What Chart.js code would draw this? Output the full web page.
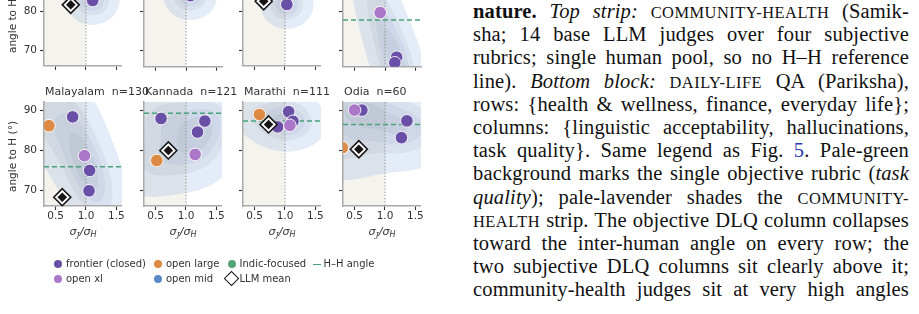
<!DOCTYPE html>
<html><head><meta charset="utf-8">
<script src="https://cdn.jsdelivr.net/npm/chart.js@4.4.1/dist/chart.umd.min.js"></script>
<style>
html,body{margin:0;padding:0;background:#fff;}
body{width:919px;height:314px;position:relative;overflow:hidden;font-family:"DejaVu Sans",sans-serif;color:#333;}
canvas.cv{position:absolute;}
.ttl{position:absolute;font-size:11px;line-height:11px;color:#333;white-space:pre;}
.xl{position:absolute;width:78px;text-align:center;font-size:11px;line-height:13px;color:#333;font-style:italic;white-space:nowrap;}
.xl sub{font-size:8px;vertical-align:-2px;}
.yl{position:absolute;font-size:10.5px;line-height:12px;color:#333;white-space:nowrap;transform-origin:0 0;transform:rotate(-90deg);}
.lgt{position:absolute;font-size:10px;line-height:12px;color:#333;white-space:nowrap;}
.dot{position:absolute;width:8px;height:8px;border-radius:50%;}
#txt{position:absolute;left:473px;top:0px;width:436px;font-family:"Liberation Serif",serif;font-size:20.5px;color:#111;letter-spacing:0.15px;}
#txt .ln{height:23.2px;line-height:23.2px;text-align:justify;text-align-last:justify;}
.sc{text-transform:uppercase;font-size:0.8em;letter-spacing:0.5px;}
.lnk{color:#2b35b8;}
</style>
</head><body>
<div id="txt"></div>
<script>
// ---------------- data ----------------
const X_TICKS = [0.5, 1.0, 1.5];
const Y_TICKS = [70, 80, 90];

// top strip (titles cut off in the crop)
const topFrontier  = [[[1.11,82.7]], [[1.07,84.0]], [[1.03,81.7]], [[1.19,68.4],[1.16,67.0]]];
const topOpenXL    = [[], [], [], [[0.92,79.7]]];
const topOpenLarge = [[], [], [], []];
const topIndic     = [[], [], [], []];
const topOpenMid   = [[], [], [], []];
const topMean      = [[0.75,81.6], null, [0.65,82.5], null];
const topHH        = [null, null, null, 77.8];

// bottom block
const bottomNames     = ['Malayalam', 'Kannada', 'Marathi', 'Odia'];
const bottomN         = [130, 121, 111, 60];
const bottomFrontier  = [[[0.78,88.3],[1.06,74.9],[1.05,69.8]], [[0.59,87.9],[1.31,87.25],[1.19,84.5]], [[1.06,89.6],[1.13,87.2],[0.88,85.8]], [[0.62,90.0],[1.36,87.3],[1.27,83.1]]];
const bottomOpenXL    = [[[0.975,78.6]], [[1.15,78.9]], [[1.08,86.2]], [[0.50,90.0]]];
const bottomOpenLarge = [[[0.39,86.1]], [[0.52,77.4]], [[0.58,88.9]], [[0.30,80.6]]];
const bottomIndic     = [[], [], [], []];
const bottomOpenMid   = [[], [], [], []];
const bottomMean      = [[0.61,68.2], [0.71,79.9], [0.73,86.4], [0.57,80.2]];
const bottomHH        = [75.8, 89.2, 87.3, 86.4];

const legendLabels = ['frontier (closed)', 'open large', 'Indic-focused', 'H\u2013H angle', 'open xl', 'open mid', 'LLM mean'];

// ---------------- styling / layout ----------------
const COLORS = {frontier:'#6a4fa6', openLarge:'#dc8a44', indic:'#4ea67a', openMid:'#5b88c6', openXL:'#ab77c8', hh:'#47a27c'};
const X_RANGE = [0.31, 1.59], Y_RANGE = [66, 92];
const COL_LEFT = [44, 144, 243, 343];
const PLOT_W = 78, PLOT_H = 104;
const ROW_TOP = [-36, 102];
const BEIGE = '#f4f3ee';
const KDE_REG = [0.03, 6];
const KDE_LEVELS = [0.04, 0.3, 0.55, 0.8];
const KDE_LAYERS = [[95,140,210,0.17],[120,135,165,0.10],[120,135,165,0.10],[110,120,140,0.10]];

function kdeModel(pts){
  const n = pts.length; let mx=0,my=0;
  pts.forEach(p=>{mx+=p[0];my+=p[1];}); mx/=n; my/=n;
  let sxx=0,syy=0,sxy=0;
  if(n>1){pts.forEach(p=>{const dx=p[0]-mx,dy=p[1]-my;sxx+=dx*dx;syy+=dy*dy;sxy+=dx*dy;});sxx/=(n-1);syy/=(n-1);sxy/=(n-1);}
  const f2 = Math.pow(n,-1/3);
  const a=sxx*f2+KDE_REG[0], d=syy*f2+KDE_REG[1], b=sxy*f2;
  const det=a*d-b*b;
  return {pts, ia:d/det, id:a/det, ib:-b/det, sx:Math.sqrt(a), sy:Math.sqrt(d)};
}
function dens(m,x,y){let s=0;for(const p of m.pts){const dx=x-p[0],dy=y-p[1];s+=Math.exp(-0.5*(m.ia*dx*dx+2*m.ib*dx*dy+m.id*dy*dy));}return s;}
function levels(m){
  const xs=m.pts.map(p=>p[0]), ys=m.pts.map(p=>p[1]);
  const x0=Math.min(...xs)-4.5*m.sx, x1=Math.max(...xs)+4.5*m.sx, y0=Math.min(...ys)-4.5*m.sy, y1=Math.max(...ys)+4.5*m.sy;
  const N=160, vals=[];
  for(let i=0;i<N;i++)for(let j=0;j<N;j++)vals.push(dens(m,x0+(x1-x0)*(i+0.5)/N,y0+(y1-y0)*(j+0.5)/N));
  vals.sort((a,b)=>a-b);
  const tot=vals.reduce((s,v)=>s+v,0);
  return KDE_LEVELS.map(q=>{let c=0;for(let k=0;k<vals.length;k++){c+=vals[k];if(c>=q*tot)return vals[k];}return vals[vals.length-1];});
}
const STACKS=(()=>{const out=[[0,0,0,0]];let pr=0,pg=0,pb=0,pa=0;
  KDE_LAYERS.forEach(([r,g,b,a])=>{pr=r*a+pr*(1-a);pg=g*a+pg*(1-a);pb=b*a+pb*(1-a);pa=a+pa*(1-a);out.push([pr,pg,pb,pa]);});return out;})();

function drawKDE(chart, pts){
  if(!pts.length)return;
  const m=kdeModel(pts), thr=levels(m);
  const ca=chart.chartArea, ctx=chart.ctx;
  const x0=Math.floor(ca.left), y0=Math.floor(ca.top), w=Math.ceil(ca.right)-x0, h=Math.ceil(ca.bottom)-y0;
  const img=new ImageData(w,h), xs=chart.scales.x, ys=chart.scales.y;
  const subs=[0.25,0.75];
  for(let j=0;j<h;j++)for(let i=0;i<w;i++){
    let r=0,g=0,b=0,a=0;
    for(const sx of subs)for(const sy of subs){
      const d=dens(m,xs.getValueForPixel(x0+i+sx),ys.getValueForPixel(y0+j+sy));
      let k=0;while(k<thr.length&&d>=thr[k])k++;
      const s=STACKS[k];r+=s[0];g+=s[1];b+=s[2];a+=s[3];
    }
    r/=4;g/=4;b/=4;a/=4;
    const o=(j*w+i)*4;
    if(a>0){img.data[o]=r/a;img.data[o+1]=g/a;img.data[o+2]=b/a;img.data[o+3]=a*255;}
  }
  const off=document.createElement('canvas');off.width=w;off.height=h;off.getContext('2d').putImageData(img,0,0);
  ctx.save();ctx.beginPath();ctx.rect(ca.left,ca.top,ca.right-ca.left,ca.bottom-ca.top);ctx.clip();
  ctx.drawImage(off,x0,y0);ctx.restore();
}

function panelPlugin(info){
  return {
    id:'panelBg',
    beforeDraw(chart){
      const ca=chart.chartArea, ctx=chart.ctx, x1=chart.scales.x.getPixelForValue(1.0);
      ctx.save();ctx.fillStyle=BEIGE;ctx.fillRect(ca.left,ca.top,x1-ca.left,ca.bottom-ca.top);ctx.restore();
      drawKDE(chart, info.kdePts);
    },
    beforeDatasetsDraw(chart){
      const ca=chart.chartArea, ctx=chart.ctx, x1=chart.scales.x.getPixelForValue(1.0);
      ctx.save();ctx.beginPath();ctx.rect(ca.left,ca.top,ca.right-ca.left,ca.bottom-ca.top);ctx.clip();
      ctx.strokeStyle='#8a8a8a';ctx.lineWidth=1;ctx.setLineDash([1.2,2]);
      ctx.beginPath();ctx.moveTo(x1,ca.top);ctx.lineTo(x1,ca.bottom);ctx.stroke();
      if(info.hh!=null){
        const y=chart.scales.y.getPixelForValue(info.hh);
        ctx.strokeStyle=COLORS.hh;ctx.lineWidth=1.5;ctx.setLineDash([5,3]);
        ctx.beginPath();ctx.moveTo(ca.left,y);ctx.lineTo(ca.right,y);ctx.stroke();
      }
      ctx.restore();
    }
  };
}

function toXY(arr){return (arr||[]).map(p=>({x:p[0],y:p[1]}));}

function makePanel(row,col){
  const isTop=row===0;
  const cats={
    frontier:(isTop?topFrontier:bottomFrontier)[col],
    openLarge:(isTop?topOpenLarge:bottomOpenLarge)[col],
    indic:(isTop?topIndic:bottomIndic)[col],
    openMid:(isTop?topOpenMid:bottomOpenMid)[col],
    openXL:(isTop?topOpenXL:bottomOpenXL)[col]
  };
  const mean=(isTop?topMean:bottomMean)[col];
  const hh=(isTop?topHH:bottomHH)[col];
  const kdePts=[].concat(cats.frontier,cats.openLarge,cats.indic,cats.openMid,cats.openXL);
  const xH=isTop?8:22, W=44+PLOT_W+10, H=10+PLOT_H+xH;
  const cv=document.createElement('canvas');cv.className='cv';cv.width=W;cv.height=H;
  cv.style.width=W+'px';cv.style.height=H+'px';
  cv.style.left=(COL_LEFT[col]-44)+'px';cv.style.top=(ROW_TOP[row]-10)+'px';
  document.body.appendChild(cv);
  const order=['openXL','openMid','indic','openLarge','frontier'];
  const datasets=[];
  if(mean){
    datasets.push({data:toXY([mean]),pointStyle:'rectRot',pointRadius:4.8,backgroundColor:'#151515',borderWidth:0,order:0,clip:false});
    datasets.push({data:toXY([mean]),pointStyle:'rectRot',pointRadius:8.5,backgroundColor:'#ffffff',borderColor:'#151515',borderWidth:1.6,order:1,clip:false});
  }
  order.forEach((k,i)=>datasets.push({data:toXY(cats[k]),pointRadius:6.3,backgroundColor:COLORS[k],borderColor:'#ffffff',borderWidth:0.9,order:2+i,clip:0}));
  new Chart(cv,{
    type:'scatter',
    data:{datasets},
    options:{
      responsive:false,animation:false,devicePixelRatio:1,events:[],
      layout:{padding:{top:10,right:10,left:0,bottom:0}},
      plugins:{legend:{display:false},tooltip:{enabled:false}},
      scales:{
        x:{type:'linear',min:X_RANGE[0],max:X_RANGE[1],
          afterBuildTicks:s=>{s.ticks=X_TICKS.map(v=>({value:v}));},
          afterFit:s=>{s.height=xH;},
          grid:{display:true,drawOnChartArea:false,drawTicks:true,tickLength:4,tickWidth:1.1,tickColor:'#333'},
          border:{display:true,color:'#a9a9a9',width:1.5},
          ticks:{display:!isTop,padding:0,color:'#333',font:{family:'DejaVu Sans',size:10.5},callback:v=>Number(v).toFixed(1)}},
        y:{type:'linear',min:Y_RANGE[0],max:Y_RANGE[1],
          afterBuildTicks:s=>{s.ticks=Y_TICKS.map(v=>({value:v}));},
          afterFit:s=>{s.width=44;},
          grid:{display:true,drawOnChartArea:false,drawTicks:true,tickLength:4,tickWidth:1.1,tickColor:'#333'},
          border:{display:true,color:'#a9a9a9',width:1.5},
          ticks:{padding:3,color:'#333',font:{family:'DejaVu Sans',size:10.5},callback:v=>col===0?String(v):''}}
      }
    },
    plugins:[panelPlugin({kdePts,hh})]
  });
}
for(let r=0;r<2;r++)for(let c=0;c<4;c++)makePanel(r,c);

// ---------------- overlay text ----------------
function addDiv(cls,html,style){const d=document.createElement('div');d.className=cls;d.innerHTML=html;Object.assign(d.style,style);document.body.appendChild(d);return d;}
bottomNames.forEach((nm,i)=>addDiv('ttl',nm+'  n='+bottomN[i],{left:(COL_LEFT[i]+1)+'px',top:'85.5px'}));
COL_LEFT.forEach(l=>addDiv('xl','\u03c3<sub style="font-family:DejaVu Serif">J</sub>/\u03c3<sub>H</sub>',{left:l+'px',top:'225px'}));
addDiv('yl','angle to H (\u00b0)',{left:'6px',top:'53px'});
addDiv('yl','angle to H (\u00b0)',{left:'5.5px',top:'192px'});

// legend
const LG=[
  {t:legendLabels[0],x:66,y:264.3,dot:COLORS.frontier,dx:58},
  {t:legendLabels[1],x:166,y:264.3,dot:COLORS.openLarge,dx:158},
  {t:legendLabels[2],x:239.5,y:264.3,dot:COLORS.indic,dx:232},
  {t:legendLabels[3],x:323.5,y:264.3,line:true},
  {t:legendLabels[4],x:66,y:278.7,dot:COLORS.openXL,dx:58},
  {t:legendLabels[5],x:166,y:278.7,dot:COLORS.openMid,dx:158},
  {t:legendLabels[6],x:239.5,y:278.7,diamond:true}
];
LG.forEach(it=>{
  if(it.dot)addDiv('dot','',{left:(it.dx-4)+'px',top:(it.y-4)+'px',background:it.dot});
  if(it.line)addDiv('dot','',{left:'313px',top:(it.y-0.75)+'px',width:'8px',height:'1.6px',borderRadius:'0',background:COLORS.hh});
  if(it.diamond)addDiv('dot','',{left:(231.7-5.5)+'px',top:(it.y-5.5)+'px',width:'11px',height:'11px',borderRadius:'0',background:'#fff',border:'1.8px solid #151515',boxSizing:'border-box',transform:'rotate(45deg)'});
  addDiv('lgt',it.t,{left:it.x+'px',top:(it.y-6)+'px'});
});
// caption text column
const LINES=[
 '<b>nature.</b> <i>Top strip:</i> <span class="sc">community-health</span> (Samik-',
 'sha; 14 base LLM judges over four subjective',
 'rubrics; single human pool, so no H\u2013H reference',
 'line). <i>Bottom block:</i> <span class="sc">daily-life</span> QA (Pariksha),',
 'rows: {health &amp; wellness, finance, everyday life};',
 'columns: {linguistic acceptability, hallucinations,',
 'task quality}. Same legend as Fig. <span class="lnk">5</span>. Pale-green',
 'background marks the single objective rubric (<i>task</i>',
 '<i>quality</i>); pale-lavender shades the <span class="sc">community-</span>',
 '<span class="sc">health</span> strip. The objective DLQ column collapses',
 'toward the inter-human angle on every row; the',
 'two subjective DLQ columns sit clearly above it;',
 'community-health judges sit at very high angles'
];
document.getElementById('txt').innerHTML=LINES.map(l=>'<div class="ln">'+l+'</div>').join('');
</script>
</body></html>
